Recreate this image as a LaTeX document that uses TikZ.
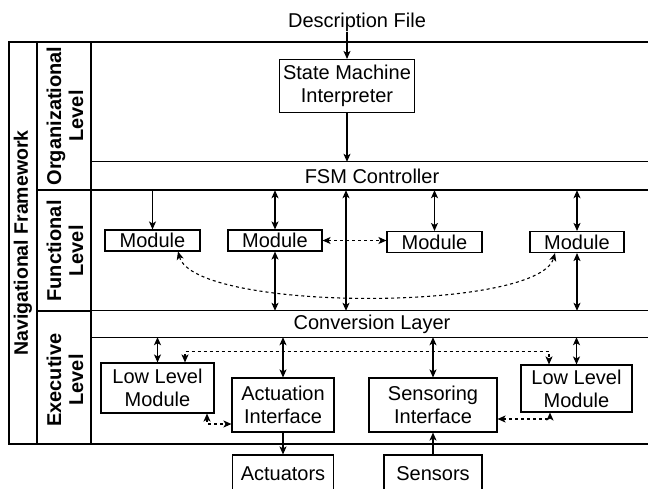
\documentclass[tikz,border=0pt]{standalone}
\usepackage{fontspec}
\setmainfont{Liberation Sans}
\usetikzlibrary{arrows.meta}
\begin{document}
\begin{tikzpicture}[x=1pt,y=-1pt,
  ln/.style={line width=1.1pt},
  box/.style={draw, line width=1.1pt, inner sep=0pt, align=center, font=\fontsize{20}{23}\selectfont},
  txt/.style={inner sep=0pt, align=center, font=\fontsize{20}{23}\selectfont},
  lbl/.style={inner sep=0pt, align=center, rotate=90, font=\fontsize{20}{22}\selectfont\bfseries},
  tip/.style={Stealth[length=8pt,width=7pt,inset=2pt]},
  arr/.style={line width=1.1pt, -{Stealth[length=8pt,width=7pt,inset=2pt]}},
  dbl/.style={line width=1.1pt, {Stealth[length=8pt,width=7pt,inset=2pt]}-{Stealth[length=8pt,width=7pt,inset=2pt]}},
  dsh/.style={dbl, dash pattern=on 3pt off 3pt}]
\clip (0,0) rectangle (648,488);
% bands
\node[txt, minimum width=562pt, minimum height=28pt] (fsm) at (372,176) {FSM Controller};
\node[txt, minimum width=562pt, minimum height=26pt] (conv) at (372,324) {Conversion Layer};
% frame
\draw[ln] (648,42) -- (9,42) -- (9,444) -- (648,444);
\draw[ln] (37,42) -- (37,444);
\draw[ln] (91,42) -- (91,444);
\draw[ln] (37,190) -- (91,190);
\draw[ln] (37,311) -- (91,311);
\draw[ln] (fsm.north west) -- (fsm.north east);
\draw[line width=2.5pt] (fsm.south west) -- (fsm.south east);
\draw[ln] (conv.north west) -- (conv.north east);
\draw[ln] (conv.south west) -- (conv.south east);
% labels
\node[lbl, font=\fontsize{19.5}{22}\selectfont\bfseries] (nav) at (23,243) {Navigational Framework};
\node[lbl] (org) at (65,116) {Organizational\\Level};
\node[lbl] (fun) at (65,251) {Functional\\Level};
\node[lbl] (exe) at (65,380) {Executive\\Level};
% organizational
\node[txt] (desc) at (357,22) {Description File};
\node[box, minimum width=135pt, minimum height=53pt] (smi) at (347,86) {State Machine\\Interpreter};
\draw[arr] (desc.south -| smi.north) -- (smi.north);
\draw[arr] (smi.south) -- (smi.south |- fsm.north);
% functional
\node[box, minimum width=95pt, minimum height=21pt] (m1) at (152.5,240.5) {Module};
\node[box, minimum width=94pt, minimum height=21pt] (m2) at (275,240.5) {Module};
\node[box, minimum width=95pt, minimum height=21pt] (m3) at (434.5,242) {Module};
\node[box, minimum width=94pt, minimum height=21pt] (m4) at (577,242) {Module};
\coordinate (mid) at (346,250);
\draw[arr] (m1.north |- fsm.south) -- (m1.north);
\draw[dbl] (m2.north |- fsm.south) -- (m2.north);
\draw[dbl] (m3.north |- fsm.south) -- (m3.north);
\draw[dbl] (m4.north |- fsm.south) -- (m4.north);
\draw[dbl] (mid |- fsm.south) -- (mid |- conv.north);
\draw[dbl] (m2.south) -- (m2.south |- conv.north);
\draw[dbl] (m4.south) -- (m4.south |- conv.north);
\draw[dsh] (m2.east) -- (m2.east -| m3.west);
\draw[dsh] ([xshift=25.5pt]m1.south) .. controls (195,312) and (538,312) .. ([xshift=-22pt]m4.south);
% executive
\node[box, minimum width=113pt, minimum height=50pt] (ll1) at (157.5,388) {Low Level\\Module};
\node[box, minimum width=102pt, minimum height=54pt] (act) at (283,405) {Actuation\\Interface};
\node[box, minimum width=128pt, minimum height=54pt] (sen) at (433,405) {Sensoring\\Interface};
\node[box, minimum width=111pt, minimum height=47pt] (ll2) at (576.5,388.5) {Low Level\\Module};
\node[box, minimum width=101pt, minimum height=38pt] (actu) at (283,474) {Actuators};
\node[box, minimum width=98pt, minimum height=38pt] (sens) at (433,474) {Sensors};
\draw[dbl] (ll1.north |- conv.south) -- (ll1.north);
\draw[dbl] (act.north |- conv.south) -- (act.north);
\draw[dbl] (sen.north |- conv.south) -- (sen.north);
\draw[dbl] (ll2.north |- conv.south) -- (ll2.north);
\draw[dsh] ([xshift=27.5pt]ll1.north) -- ++(0,-11) -| ([xshift=-27.5pt]ll2.north);
\draw[dsh] ([xshift=49.5pt]ll1.south) |- ([yshift=-19pt]act.west);
\draw[dsh] ([yshift=-14pt]sen.east) -| ([xshift=-26.5pt]ll2.south);
\draw[arr] (act.south) -- (actu.north);
\draw[arr] (sens.north) -- (sen.south);
\end{tikzpicture}
\end{document}
